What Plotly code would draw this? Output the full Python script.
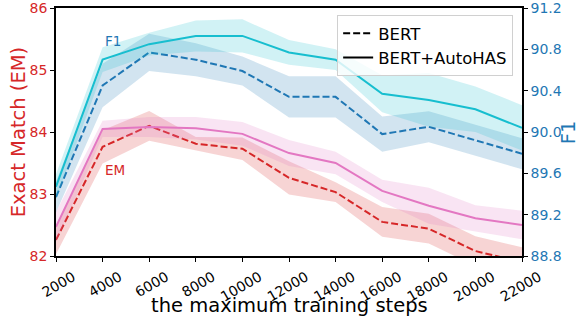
import plotly.graph_objects as go

steps = [2000, 4000, 6000, 8000, 10000, 12000, 14000, 16000, 18000, 20000, 22000]
step_labels = ["2000", "4000", "6000", "8000", "10000", "12000", "14000", "16000", "18000", "20000", "22000"]

f1_autohas = [89.47, 90.70, 90.85, 90.93, 90.93, 90.77, 90.70, 90.37, 90.31, 90.22, 90.04]
f1_autohas_err = [0.12, 0.12, 0.11, 0.15, 0.16, 0.12, 0.10, 0.18, 0.26, 0.22, 0.22]
f1_bert = [89.37, 90.45, 90.77, 90.70, 90.59, 90.34, 90.34, 89.98, 90.05, 89.92, 89.79]
f1_bert_err = [0.15, 0.21, 0.18, 0.16, 0.14, 0.20, 0.20, 0.17, 0.15, 0.15, 0.15]

em_autohas = [82.47, 84.05, 84.08, 84.06, 83.97, 83.66, 83.50, 83.05, 82.81, 82.61, 82.50]
em_autohas_err = [0.24, 0.13, 0.16, 0.18, 0.19, 0.21, 0.18, 0.18, 0.29, 0.21, 0.23]
em_bert = [82.26, 83.76, 84.10, 83.81, 83.73, 83.26, 83.03, 82.55, 82.44, 82.08, 81.90]
em_bert_err = [0.23, 0.27, 0.24, 0.11, 0.18, 0.27, 0.16, 0.24, 0.24, 0.24, 0.24]

em_ticks = [82, 83, 84, 85, 86]
f1_ticks = [88.8, 89.2, 89.6, 90.0, 90.4, 90.8, 91.2]
f1_tick_text = ["88.8", "89.2", "89.6", "90.0", "90.4", "90.8", "91.2"]

BLUE = "#1f77b4"
CYAN = "#17becf"
RED = "#d62728"
PINK = "#e377c2"
FONT = "DejaVu Sans"

def rgba(hex_color, a):
    h = hex_color.lstrip("#")
    r, g, b = int(h[0:2], 16), int(h[2:4], 16), int(h[4:6], 16)
    return f"rgba({r},{g},{b},{a})"

fig = go.Figure()

def add_series(y, err, color, dash, yaxis):
    upper = [v + e for v, e in zip(y, err)]
    lower = [v - e for v, e in zip(y, err)]
    fig.add_trace(go.Scatter(x=steps, y=upper, mode="lines", line=dict(width=0),
                             showlegend=False, hoverinfo="skip", yaxis=yaxis))
    fig.add_trace(go.Scatter(x=steps, y=lower, mode="lines", line=dict(width=0),
                             fill="tonexty", fillcolor=rgba(color, 0.2),
                             showlegend=False, hoverinfo="skip", yaxis=yaxis))
    fig.add_trace(go.Scatter(x=steps, y=y, mode="lines",
                             line=dict(color=color, width=2, dash=dash),
                             showlegend=False, yaxis=yaxis))

add_series(em_bert, em_bert_err, RED, "7px,3px", "y")
add_series(em_autohas, em_autohas_err, PINK, "solid", "y")
add_series(f1_bert, f1_bert_err, BLUE, "7px,3px", "y2")
add_series(f1_autohas, f1_autohas_err, CYAN, "solid", "y2")

# legend entries
fig.add_trace(go.Scatter(x=[None], y=[None], mode="lines", name="BERT",
                         line=dict(color="black", width=2, dash="7px,3px")))
fig.add_trace(go.Scatter(x=[None], y=[None], mode="lines", name="BERT+AutoHAS",
                         line=dict(color="black", width=2)))

fig.add_annotation(x=4000, y=90.88, yref="y2", text="F1", showarrow=False,
                   xanchor="left", yanchor="middle", font=dict(color=BLUE, size=13.5, family=FONT))
fig.add_annotation(x=4000, y=83.38, yref="y", text="EM", showarrow=False,
                   xanchor="left", yanchor="middle", font=dict(color=RED, size=13.5, family=FONT))

# axis titles
fig.add_annotation(xref="paper", yref="paper", x=0.5, y=-0.2, text="the maximum training steps",
                   showarrow=False, xanchor="center", yanchor="middle",
                   font=dict(size=19.5, color="black", family=FONT))
fig.add_annotation(xref="paper", yref="paper", x=-0.081, y=0.5, text="Exact Match (EM)",
                   showarrow=False, xanchor="center", yanchor="middle", textangle=-90,
                   font=dict(size=19.5, color=RED, family=FONT))
fig.add_annotation(xref="paper", yref="paper", x=1.099, y=0.5, text="F1",
                   showarrow=False, xanchor="center", yanchor="middle", textangle=-90,
                   font=dict(size=19.5, color=BLUE, family=FONT))

fig.update_layout(
    width=579, height=317,
    margin=dict(l=56, r=57, t=8, b=61, autoexpand=False),
    plot_bgcolor="white", paper_bgcolor="white",
    font=dict(family=FONT, size=14, color="black"),
    xaxis=dict(range=[2000, 22000], tickvals=steps, ticktext=step_labels, tickangle=-30,
               automargin=False, ticklabelshift=17, ticklabelstandoff=2, ticklabeloverflow="allow",
               showline=True, linecolor="black", linewidth=1.5, mirror=True,
               ticks="outside", ticklen=4, tickcolor="black", showgrid=False, zeroline=False,
               tickfont=dict(size=14)),
    yaxis=dict(range=[82, 86], tickvals=em_ticks, showline=True, linecolor="black", linewidth=1.5,
               automargin=False, ticklabeloverflow="allow",
               ticks="outside", ticklen=4, tickcolor="black", showgrid=False, zeroline=False,
               tickfont=dict(color=RED, size=14)),
    yaxis2=dict(range=[88.8, 91.2], tickvals=f1_ticks, ticktext=f1_tick_text, overlaying="y", side="right",
                automargin=False, ticklabeloverflow="allow",
                showline=True, linecolor="black", linewidth=1.5,
                ticks="outside", ticklen=4, tickcolor="black", showgrid=False, zeroline=False,
                tickfont=dict(color=BLUE, size=14)),
    legend=dict(x=0.981, y=0.972, xanchor="right", yanchor="top", traceorder="normal",
                bgcolor="rgba(255,255,255,0.8)", bordercolor="#d0d0d0", borderwidth=1,
                font=dict(size=16.5)),
)

fig.write_html("out.html", config={"displayModeBar": False},
               post_script="document.body.style.margin='0';document.body.style.overflow='hidden';")
